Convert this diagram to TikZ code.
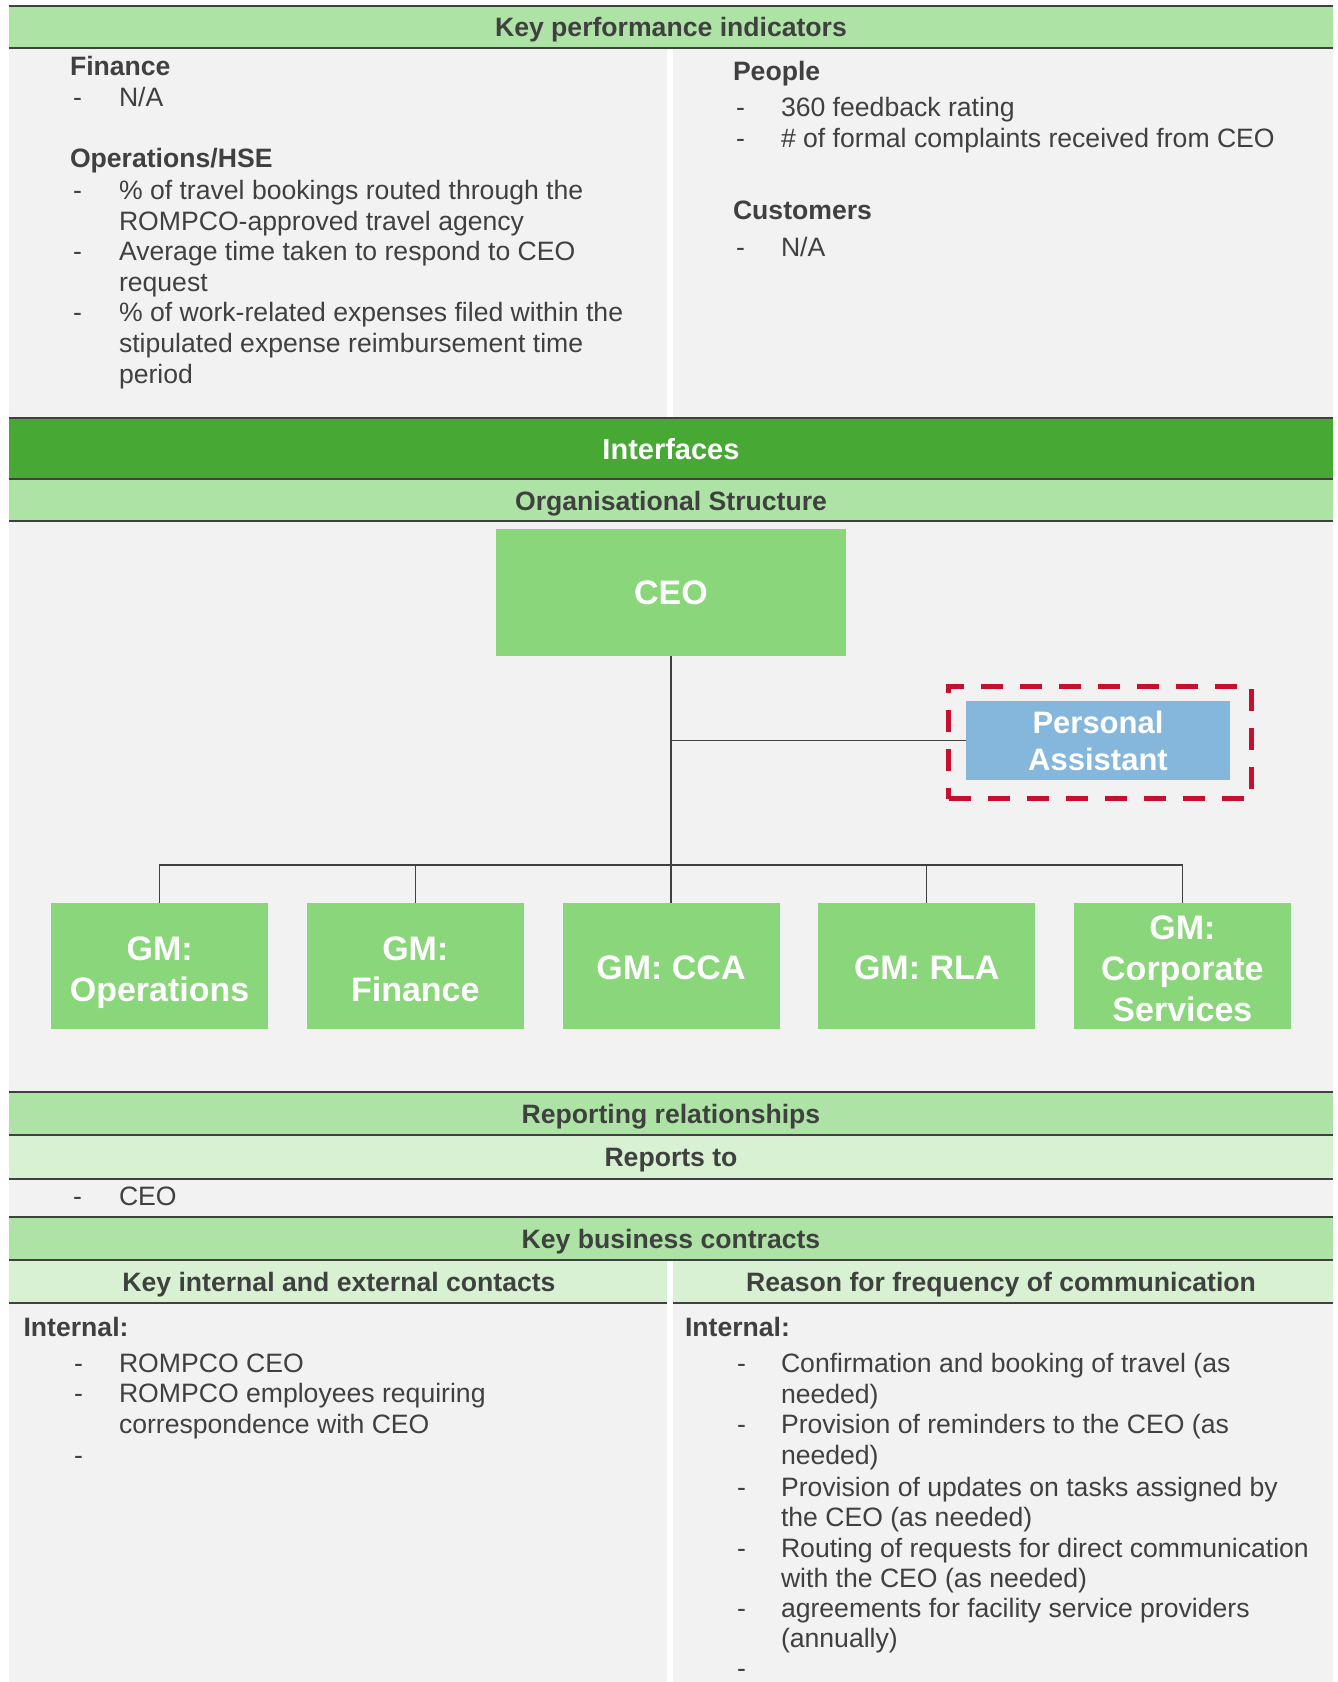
\documentclass[tikz,border=0pt]{standalone}
\usepackage{fontspec}
\setmainfont{Liberation Sans}
\definecolor{tgray}{HTML}{404040}
\definecolor{bggray}{HTML}{F2F2F2}
\definecolor{hgreen}{HTML}{ADE4A5}
\definecolor{dgreen}{HTML}{47A833}
\definecolor{sgreen}{HTML}{D7F1D2}
\definecolor{boxgreen}{HTML}{8AD67A}
\definecolor{pablue}{HTML}{85B7DD}
\definecolor{dred}{HTML}{C8102E}
\begin{document}
\begin{tikzpicture}[x=1pt,y={(0pt,-1pt)},
  tx/.style={anchor=base west, inner sep=0pt, outer sep=0pt, text=tgray, font=\fontsize{26.6}{30.7}\selectfont},
  bx/.style={tx, font=\bfseries\fontsize{26.6}{30.7}\selectfont},
  hd/.style={anchor=base, inner sep=0pt, text=tgray, font=\bfseries\fontsize{26.6}{30.7}\selectfont},
  gm/.style={fill=boxgreen, minimum width=217pt, minimum height=126pt, inner sep=0pt},
  gmt/.style={inner sep=0pt, align=center, text=white, font=\bfseries\fontsize{34}{41}\selectfont},
  conn/.style={draw=tgray, line width=1.5pt},
  rulel/.style={draw=tgray, line width=2.2pt},
  reddash/.style={draw=dred, line width=5pt, dash pattern=on 22pt off 17pt, inner sep=0pt}]
\useasboundingbox (0,0) rectangle (1338,1682);
\fill[white] (0,0) rectangle (1338,1682);
\fill[bggray] (9,6) rectangle (1333,1682);
% header fills
\fill[hgreen] (9,6) rectangle (1333,48);
\fill[dgreen] (9,418) rectangle (1333,479);
\fill[hgreen] (9,479) rectangle (1333,521);
\fill[hgreen] (9,1092) rectangle (1333,1135);
\fill[sgreen] (9,1135) rectangle (1333,1179);
\fill[hgreen] (9,1217) rectangle (1333,1260);
\fill[sgreen] (9,1260) rectangle (1333,1303);
% rules
\foreach \yy in {6,48,418,479,521,1092,1135,1179,1217,1260,1303}
  \draw[rulel] (9,\yy) -- (1333,\yy);
% white column dividers
\fill[white] (667,49.1) rectangle (673,416.9);
\fill[white] (667,1261.1) rectangle (673,1682);

% header texts
\node[hd] (kpih) at (671,36.5) {Key performance indicators};
\node[anchor=base, inner sep=0pt, text=white, font=\bfseries\fontsize{29}{33}\selectfont] (intf) at (671,459) {Interfaces};
\node[hd] (orgh) at (671,510) {Organisational Structure};
\node[hd] (reph) at (671,1123) {Reporting relationships};
\node[hd] (rtoh) at (671,1166.5) {Reports to};
\node[hd] (kbch) at (671,1248) {Key business contracts};
\node[hd] (kieh) at (339,1291) {Key internal and external contacts};
\node[hd] (rfch) at (1001,1291) {Reason for frequency of communication};

% KPI left column
\node[bx] (finh) at (70,75) {Finance};
\node[tx] (find1) at (73,106) {-};
\node[tx] (fint1) at (119,106) {N/A};
\node[bx] (opsh) at (70,167) {Operations/HSE};
\node[tx] (opsd1) at (73,199.5) {-};
\node[tx] (opst1) at (119,199.5) {\% of travel bookings routed through the};
\node[tx] (opst1b) at (119,230) {ROMPCO-approved travel agency};
\node[tx] (opsd2) at (73,260.5) {-};
\node[tx] (opst2) at (119,260.5) {Average time taken to respond to CEO};
\node[tx] (opst2b) at (119,291) {request};
\node[tx] (opsd3) at (73,321.5) {-};
\node[tx] (opst3) at (119,321.5) {\% of work-related expenses filed within the};
\node[tx] (opst3b) at (119,352.5) {stipulated expense reimbursement time};
\node[tx] (opst3c) at (119,383) {period};

% KPI right column
\node[bx] (peoh) at (733,80.5) {People};
\node[tx] (peod1) at (736,116.5) {-};
\node[tx] (peot1) at (781,116.5) {360 feedback rating};
\node[tx] (peod2) at (736,147.5) {-};
\node[tx] (peot2) at (781,147.5) {\# of formal complaints received from CEO};
\node[bx] (cush) at (733,219.5) {Customers};
\node[tx] (cusd1) at (736,256.5) {-};
\node[tx] (cust1) at (781,256.5) {N/A};

% org chart
\node[fill=boxgreen, minimum width=350pt, minimum height=127pt, inner sep=0pt, text=white, font=\bfseries\fontsize{34}{41}\selectfont] (ceo) at (671,592.5) {CEO};
\node[reddash, minimum width=302.5pt, minimum height=112.5pt] (paframe) at (1099.75,742.25) {};
\node[fill=pablue, minimum width=264pt, minimum height=79pt, inner sep=0pt, align=center, text=white, font=\bfseries\fontsize{31}{37}\selectfont] (pa) at (1098,740.5) {Personal\\Assistant};
\node[gm] (gm1) at (159.6,966) {};
\node[gm] (gm2) at (415.3,966) {};
\node[gm] (gm3) at (671,966) {};
\node[gm] (gm4) at (926.7,966) {};
\node[gm] (gm5) at (1182.4,966) {};
\node[gmt, yshift=-6.5pt] (gm1t) at (gm1) {GM:\\Operations};
\node[gmt, yshift=-3.5pt] (gm2t) at (gm2) {GM:\\Finance};
\node[gmt, yshift=-2pt] (gm3t) at (gm3) {GM: CCA};
\node[gmt, yshift=-2pt] (gm4t) at (gm4) {GM: RLA};
\node[gmt, yshift=-3pt] (gm5t) at (gm5) {GM:\\Corporate\\Services};
\coordinate (bus) at (671,865);
\draw[conn] (ceo.south) -- (gm3.north);
\draw[conn] (ceo.south |- pa.west) -- (pa.west);
\draw[conn] (gm1.north) |- (bus) -| (gm5.north);
\draw[conn] (gm2.north) -- (gm2.north |- bus);
\draw[conn] (gm4.north) -- (gm4.north |- bus);

% reports to
\node[tx] (rtod1) at (73,1205) {-};
\node[tx] (rtot1) at (119,1205) {CEO};

% contacts left
\node[bx] (cinh) at (23.6,1336) {Internal:};
\node[tx] (cind1) at (74,1372.5) {-};
\node[tx] (cint1) at (119,1372.5) {ROMPCO CEO};
\node[tx] (cind2) at (74,1402.5) {-};
\node[tx] (cint2) at (119,1402.5) {ROMPCO employees requiring};
\node[tx] (cint2b) at (119,1433) {correspondence with CEO};
\node[tx] (cind3) at (74,1464.5) {-};

% contacts right
\node[bx] (rinh) at (685,1336) {Internal:};
\node[tx] (rind1) at (737,1372.5) {-};
\node[tx] (rint1) at (781,1372.5) {Confirmation and booking of travel (as};
\node[tx] (rint1b) at (781,1403) {needed)};
\node[tx] (rind2) at (737,1433.5) {-};
\node[tx] (rint2) at (781,1433.5) {Provision of reminders to the CEO (as};
\node[tx] (rint2b) at (781,1464) {needed)};
\node[tx] (rind3) at (737,1496) {-};
\node[tx] (rint3) at (781,1496) {Provision of updates on tasks assigned by};
\node[tx] (rint3b) at (781,1526.5) {the CEO (as needed)};
\node[tx] (rind4) at (737,1557) {-};
\node[tx] (rint4) at (781,1557) {Routing of requests for direct communication};
\node[tx] (rint4b) at (781,1587) {with the CEO (as needed)};
\node[tx] (rind5) at (737,1617.5) {-};
\node[tx] (rint5) at (781,1617.5) {agreements for facility service providers};
\node[tx] (rint5b) at (781,1647.5) {(annually)};
\node[tx] (rind6) at (737,1677.5) {-};
\end{tikzpicture}
\end{document}
